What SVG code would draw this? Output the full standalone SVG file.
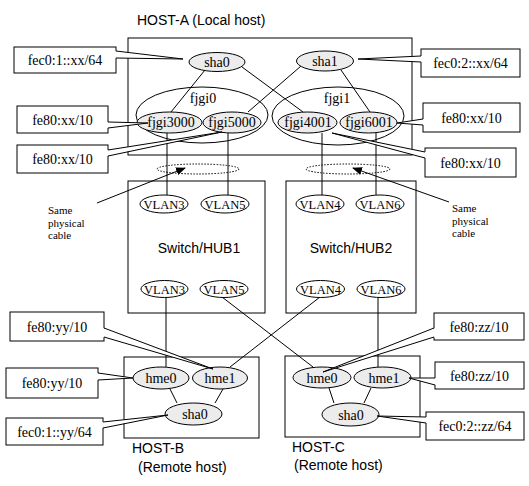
<svg xmlns="http://www.w3.org/2000/svg" width="529" height="486" viewBox="0 0 529 486">
<style>
.box{fill:#fff;stroke:#000;stroke-width:1}
.lbl{fill:#fff;stroke:#000;stroke-width:1}
.tailf{fill:#fff;stroke:none}
.tail{fill:none;stroke:#000;stroke-width:1}
.ln{stroke:#000;stroke-width:1;fill:none}
.node{fill:#ececec;stroke:#000;stroke-width:1}
.vlan{fill:#fff;stroke:#000;stroke-width:1}
.grp{fill:none;stroke:#000;stroke-width:1}
.dot{fill:none;stroke:#000;stroke-width:1;stroke-dasharray:1.5,1.5}
.t{font-family:"Liberation Serif","Times New Roman",serif;font-size:14px;fill:#000;text-anchor:middle}
.tn{font-family:"Liberation Serif","Times New Roman",serif;font-size:14px;fill:#000;text-anchor:middle}
.tv{font-family:"Liberation Serif","Times New Roman",serif;font-size:12.5px;fill:#000;text-anchor:middle}
.ts{font-family:"Liberation Sans",Arial,sans-serif;font-size:14px;fill:#000}
.tc{font-family:"Liberation Serif","Times New Roman",serif;font-size:11px;fill:#000}
</style>
<defs>
<marker id="ah" markerWidth="10" markerHeight="8" refX="9" refY="4" orient="auto" markerUnits="userSpaceOnUse">
<path d="M0,0 L10,4 L0,8 Z" fill="#000"/>
</marker>
</defs>
<rect width="529" height="486" fill="#fff"/>

<!-- containers -->
<g id="host-a">
<rect class="box" x="128" y="38" width="284" height="117"/>
<text class="ts" x="137" y="25">HOST-A (Local host)</text>
<ellipse class="grp" cx="202" cy="115" rx="66" ry="28"/>
<ellipse class="grp" cx="338" cy="116" rx="66" ry="29"/>
</g>
<g id="switch1">
<rect class="box" x="128" y="181" width="137" height="132"/>
<text class="ts" x="199" y="253" text-anchor="middle">Switch/HUB1</text>
</g>
<g id="switch2">
<rect class="box" x="286" y="181" width="130" height="132"/>
<text class="ts" x="351" y="253" text-anchor="middle">Switch/HUB2</text>
</g>
<g id="host-b">
<rect class="box" x="124" y="357" width="135" height="81"/>
<text class="ts" x="132" y="453">HOST-B</text>
<text class="ts" x="138" y="472">(Remote host)</text>
</g>
<g id="host-c">
<rect class="box" x="285" y="356" width="135" height="81"/>
<text class="ts" x="292" y="452">HOST-C</text>
<text class="ts" x="294" y="470">(Remote host)</text>
</g>

<!-- connectors -->
<g id="connectors">
<line class="ln" x1="205" y1="70" x2="171" y2="112"/>
<line class="ln" x1="242" y1="67" x2="303" y2="112"/>
<line class="ln" x1="301" y1="66" x2="248" y2="112"/>
<line class="ln" x1="341" y1="70" x2="370" y2="112"/>
<line class="ln" x1="167" y1="133" x2="167" y2="195"/>
<line class="ln" x1="228" y1="133" x2="228" y2="195"/>
<line class="ln" x1="322" y1="133" x2="322" y2="195"/>
<line class="ln" x1="376" y1="133" x2="376" y2="195"/>
<line class="ln" x1="166" y1="298" x2="166" y2="367"/>
<line class="ln" x1="378" y1="297" x2="378" y2="367"/>
<line class="ln" x1="222" y1="297" x2="313" y2="367"/>
<line class="ln" x1="320" y1="297" x2="230" y2="367"/>
<line class="ln" x1="170" y1="389" x2="177" y2="403"/>
<line class="ln" x1="223" y1="389" x2="215" y2="403"/>
<line class="ln" x1="329" y1="388" x2="334" y2="403"/>
<line class="ln" x1="371" y1="388" x2="364" y2="403"/>
<ellipse class="dot" cx="198" cy="169" rx="41" ry="5"/>
<ellipse class="dot" cx="348" cy="169" rx="42" ry="5"/>
<line class="ln" x1="97" y1="203" x2="185" y2="168" marker-end="url(#ah)"/>
<line class="ln" x1="449" y1="202" x2="353" y2="168" marker-end="url(#ah)"/>
</g>

<!-- HOST-A nodes -->
<g id="sha0-a"><ellipse class="node" cx="217" cy="62" rx="28" ry="9.5"/><text class="tn" x="217" y="67">sha0</text></g>
<g id="sha1-a"><ellipse class="node" cx="325" cy="61" rx="28.5" ry="10"/><text class="tn" x="325" y="66">sha1</text></g>
<text class="tn" x="203" y="103">fjgi0</text>
<text class="tn" x="337" y="103">fjgi1</text>
<g id="fjgi3000"><ellipse class="node" cx="169.5" cy="122.5" rx="32.5" ry="10.5"/><text class="tn" x="171" y="127">fjgi3000</text></g>
<g id="fjgi5000"><ellipse class="node" cx="232" cy="122.5" rx="29" ry="10.5"/><text class="tn" x="232" y="127">fjgi5000</text></g>
<g id="fjgi4001"><ellipse class="node" cx="307.5" cy="122.5" rx="29.5" ry="10.5"/><text class="tn" x="308" y="127">fjgi4001</text></g>
<g id="fjgi6001"><ellipse class="node" cx="368.5" cy="122.5" rx="28.5" ry="10.5"/><text class="tn" x="369" y="127">fjgi6001</text></g>

<!-- VLANs -->
<g id="vlan3-t"><ellipse class="vlan" cx="164" cy="204" rx="24" ry="9"/><text class="tv" x="164" y="208.5">VLAN3</text></g>
<g id="vlan5-t"><ellipse class="vlan" cx="225" cy="204" rx="24" ry="9"/><text class="tv" x="225" y="208.5">VLAN5</text></g>
<g id="vlan4-t"><ellipse class="vlan" cx="320" cy="204" rx="24" ry="9"/><text class="tv" x="320" y="208.5">VLAN4</text></g>
<g id="vlan6-t"><ellipse class="vlan" cx="380" cy="204" rx="24" ry="9"/><text class="tv" x="380" y="208.5">VLAN6</text></g>
<g id="vlan3-b"><ellipse class="vlan" cx="164.5" cy="289" rx="23.5" ry="8.5"/><text class="tv" x="164.5" y="293.5">VLAN3</text></g>
<g id="vlan5-b"><ellipse class="vlan" cx="224" cy="289" rx="24" ry="8.5"/><text class="tv" x="224" y="293.5">VLAN5</text></g>
<g id="vlan4-b"><ellipse class="vlan" cx="320.5" cy="289" rx="24" ry="8.5"/><text class="tv" x="320.5" y="293.5">VLAN4</text></g>
<g id="vlan6-b"><ellipse class="vlan" cx="381" cy="289" rx="24" ry="8.5"/><text class="tv" x="381" y="293.5">VLAN6</text></g>

<!-- HOST-B nodes -->
<g id="hme0-b"><ellipse class="node" cx="161" cy="378" rx="28" ry="11"/><text class="tn" x="161" y="383">hme0</text></g>
<g id="hme1-b"><ellipse class="node" cx="220" cy="378" rx="27.5" ry="11"/><text class="tn" x="220" y="383">hme1</text></g>
<g id="sha0-b"><ellipse class="node" cx="193.5" cy="414" rx="28.5" ry="11"/><text class="tn" x="195" y="419">sha0</text></g>
<!-- HOST-C nodes -->
<g id="hme0-c"><ellipse class="node" cx="322" cy="377.5" rx="29" ry="10.5"/><text class="tn" x="322" y="382.5">hme0</text></g>
<g id="hme1-c"><ellipse class="node" cx="382.5" cy="377.5" rx="28.5" ry="10.5"/><text class="tn" x="384" y="382.5">hme1</text></g>
<g id="sha0-c"><ellipse class="node" cx="350.5" cy="414.5" rx="28.5" ry="11.5"/><text class="tn" x="351" y="419.5">sha0</text></g>

<!-- Same physical cable notes -->
<g id="note-left"><text class="tc" x="48" y="214">Same</text><text class="tc" x="48" y="226.7">physical</text><text class="tc" x="48" y="239.4">cable</text></g>
<g id="note-right"><text class="tc" x="452" y="212">Same</text><text class="tc" x="452" y="224.7">physical</text><text class="tc" x="452" y="237.4">cable</text></g>

<!-- address callouts -->
<g id="c-fec0-1-xx"><rect class="lbl" x="14" y="47" width="102" height="26"/><polygon class="tailf" points="115,51 183,59 115,58"/><polyline class="tail" points="116,51 183,59 116,58"/><text class="t" x="65" y="65">fec0:1::xx/64</text></g>
<g id="c-fe80-xx-1"><rect class="lbl" x="17" y="106" width="91" height="27"/><polygon class="tailf" points="107,122 148,123 107,128"/><polyline class="tail" points="108,122 148,123 108,128"/><text class="t" x="62.5" y="124.5">fe80:xx/10</text></g>
<g id="c-fe80-xx-2"><rect class="lbl" x="17" y="145" width="91" height="28"/><polygon class="tailf" points="107,150 222,132 107,156"/><polyline class="tail" points="108,150 222,132 108,156"/><text class="t" x="62.5" y="164">fe80:xx/10</text></g>
<g id="c-fec0-2-xx"><rect class="lbl" x="421" y="49" width="99" height="28"/><polygon class="tailf" points="422,56 358,59 422,62"/><polyline class="tail" points="421,56 358,59 421,62"/><text class="t" x="470.5" y="68">fec0:2::xx/64</text></g>
<g id="c-fe80-xx-3"><rect class="lbl" x="423" y="103" width="97" height="29"/><polygon class="tailf" points="424,119 397,123 424,125"/><polyline class="tail" points="423,119 397,123 423,125"/><text class="t" x="471.5" y="122.5">fe80:xx/10</text></g>
<g id="c-fe80-xx-4"><rect class="lbl" x="425" y="148" width="91" height="29"/><polygon class="tailf" points="426,152 332,133 426,158"/><polyline class="tail" points="425,152 332,133 425,158"/><text class="t" x="470.5" y="167.5">fe80:xx/10</text></g>

<g id="c-fe80-yy-1"><rect class="lbl" x="10" y="312" width="94" height="29"/><polygon class="tailf" points="103,328 213,369 103,337"/><polyline class="tail" points="104,328 213,369 104,337"/><text class="t" x="57" y="331.5">fe80:yy/10</text></g>
<g id="c-fe80-yy-2"><rect class="lbl" x="6" y="368" width="92" height="30"/><polygon class="tailf" points="97,373 133,378 97,380"/><polyline class="tail" points="98,373 133,378 98,380"/><text class="t" x="52" y="388">fe80:yy/10</text></g>
<g id="c-fec0-1-yy"><rect class="lbl" x="6" y="418" width="97" height="27"/><polygon class="tailf" points="102,422 168,415 102,428"/><polyline class="tail" points="103,422 168,415 103,428"/><text class="t" x="54.5" y="436.5">fec0:1::yy/64</text></g>

<g id="c-fe80-zz-1"><rect class="lbl" x="434" y="313" width="90" height="27"/><polygon class="tailf" points="435,328 323,372 435,337"/><polyline class="tail" points="434,328 323,372 434,337"/><text class="t" x="479" y="331.5">fe80:zz/10</text></g>
<g id="c-fe80-zz-2"><rect class="lbl" x="435" y="362" width="89" height="27"/><polygon class="tailf" points="436,378 409,378 436,385"/><polyline class="tail" points="435,378 409,378 435,385"/><text class="t" x="479.5" y="380.5">fe80:zz/10</text></g>
<g id="c-fec0-2-zz"><rect class="lbl" x="426" y="412" width="98" height="28"/><polygon class="tailf" points="427,417 377,416 427,423"/><polyline class="tail" points="426,417 377,416 426,423"/><text class="t" x="475" y="431">fec0:2::zz/64</text></g>
</svg>
